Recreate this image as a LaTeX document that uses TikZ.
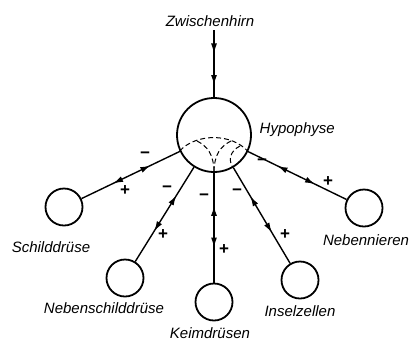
\documentclass[tikz,border=0pt]{standalone}
\usepackage{fontspec}
\setmainfont{Liberation Sans}
\usetikzlibrary{arrows.meta,decorations.markings}
\begin{document}
\begin{tikzpicture}[x=1pt,y=-1pt,line width=1.4pt,
  every node/.style={inner sep=1pt},
  lbl/.style={font=\fontsize{15}{15}\selectfont\itshape,anchor=base},
  sgn/.style={font=\fontsize{17}{17}\selectfont\bfseries},
  gland/.style={circle,draw,line width=1.8pt,minimum size=37pt,inner sep=0pt},
  inner/.style={dash pattern=on 5pt off 3pt,line width=1pt},
  feedback/.style={decoration={markings,
      mark=at position .3 with {\arrowreversed{Latex[length=10pt,width=6pt]}},
      mark=at position .68 with {\arrow{Latex[length=10pt,width=6pt]}}},
    postaction={decorate}}]
  \path[use as bounding box] (0,0) rectangle (411,341);
  % circles
  \node[gland,minimum size=74pt] (hyp) at (214,135) {};
  \node[gland] (schild) at (64,207) {};
  \node[gland] (nschild) at (125,278) {};
  \node[gland] (keim) at (214,302) {};
  \node[gland] (insel) at (300,280) {};
  \node[gland] (nniere) at (364,208) {};
  % labels
  \node[lbl] (zw) at (210,26) {Zwischenhirn};
  \node[lbl,anchor=base west] (hyplbl) at (258,133) {Hypophyse};
  \node[lbl] (schildlbl) at (51,252) {Schilddrüse};
  \node[lbl] (nschildlbl) at (104,313) {Nebenschilddrüse};
  \node[lbl] (keimlbl) at (210,338) {Keimdrüsen};
  \node[lbl] (insellbl) at (300,316) {Inselzellen};
  \node[lbl] (nnierelbl) at (366,245) {Nebennieren};
  % connectors
  \coordinate (zwend) at (214,30);
  \draw[decoration={markings,
      mark=at position .35 with {\arrow{Latex[length=10pt,width=6pt]}},
      mark=at position .82 with {\arrow{Latex[length=10pt,width=6pt]}}},
    postaction={decorate}] (zwend) -- (hyp);
  \draw[feedback] (hyp) -- (schild);
  \draw[feedback] (hyp) -- (nschild);
  \draw[feedback] (hyp) -- (keim);
  \draw[feedback] (hyp) -- (insel);
  \draw[feedback] (hyp) -- (nniere);
  % inside the Hypophyse
  \draw[inner] (hyp.205) .. controls (196,133) and (232,133) .. (hyp.334);
  \draw[inner] (197,141) .. controls (207,146) and (214,154) .. (hyp.270);
  \draw[inner] (231,141) .. controls (221,146) and (214,154) .. (hyp.270);
  \draw[inner] (240,146) .. controls (230,151) and (228,160) .. (hyp.300);
  % signs
  \node[sgn] (m1) at (145,155) {−};
  \node[sgn] (p1) at (125,191) {+};
  \node[sgn] (m2) at (167,189) {−};
  \node[sgn] (p2) at (163,235) {+};
  \node[sgn] (m3) at (204,197) {−};
  \node[sgn] (p3) at (224,250) {+};
  \node[sgn] (m4) at (237,192) {−};
  \node[sgn] (p4) at (285,235) {+};
  \node[sgn] (m5) at (262,162) {−};
  \node[sgn] (p5) at (328,182) {+};
\end{tikzpicture}
\end{document}
